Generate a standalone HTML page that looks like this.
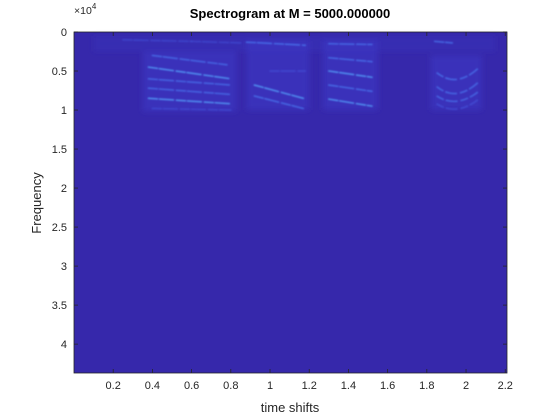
<!DOCTYPE html>
<html><head><meta charset="utf-8"><style>
html,body{margin:0;padding:0;background:#fff}
svg{display:block;font-family:"Liberation Sans",Arial,sans-serif}
</style></head><body>
<svg id="chart" width="560" height="420" viewBox="0 0 560 420" xmlns="http://www.w3.org/2000/svg">
<defs>
<filter id="blur" x="-20%" y="-200%" width="140%" height="500%"><feGaussianBlur stdDeviation="0.8"/></filter>
<filter id="blur2" x="-20%" y="-20%" width="140%" height="140%"><feGaussianBlur stdDeviation="3"/></filter>
</defs>
<rect x="74" y="32" width="433" height="341" fill="#3628ab"/>
<g id="patches" filter="url(#blur2)"></g>
<g id="streaks" filter="url(#blur)"></g>
<g id="axes"></g>
<text x="290" y="18" text-anchor="middle" font-size="13" font-weight="bold" fill="#000">Spectrogram at M = 5000.000000</text>
<text x="74" y="14" font-size="10.5" fill="#262626">×10<tspan dy="-5" font-size="8">4</tspan></text>
<text x="290" y="412" text-anchor="middle" font-size="13" fill="#262626">time shifts</text>
<text transform="translate(41,203) rotate(-90)" text-anchor="middle" font-size="13" fill="#262626">Frequency</text>
</svg>
<script>
const xTicks=[0.2,0.4,0.6,0.8,1,1.2,1.4,1.6,1.8,2,2.2];
const xTickLabels=["0.2","0.4","0.6","0.8","1","1.2","1.4","1.6","1.8","2","2.2"];
const yTicks=[0,0.5,1,1.5,2,2.5,3,3.5,4];
const yTickLabels=["0","0.5","1","1.5","2","2.5","3","3.5","4"];
// active regions: [t0, t1, f0, f1]
const regions=[[0.35,0.83,0.25,1.02],[0.88,1.20,0.1,1.0],[1.27,1.55,0.1,1.0],[1.82,2.08,0.3,1.0],[0.10,2.15,0.05,0.25]];
// streaks
const streakT0=[0.40,0.38,0.38,0.38,0.38,0.40,0.88,1.00,0.92,0.92,1.30,1.30,1.30,1.30,1.30,1.84,0.25,0.60];
const streakF0=[0.30,0.45,0.60,0.72,0.85,0.98,0.13,0.50,0.68,0.82,0.15,0.33,0.50,0.68,0.86,0.12,0.10,0.12];
const streakT1=[0.78,0.80,0.80,0.80,0.80,0.80,1.18,1.18,1.17,1.17,1.52,1.52,1.52,1.52,1.52,1.93,0.60,0.85];
const streakF1=[0.42,0.60,0.68,0.80,0.92,1.00,0.17,0.50,0.85,0.98,0.16,0.38,0.58,0.76,0.95,0.14,0.12,0.14];
const streakI=[0.6,0.8,0.6,0.6,0.8,0.4,0.7,0.4,0.8,0.7,0.6,0.7,0.8,0.7,0.8,0.7,0.3,0.3];
// arcs
const arcT0=[1.85,1.85,1.85,1.85];
const arcTm=[1.95,1.95,1.95,1.95];
const arcT1=[2.06,2.06,2.06,2.06];
const arcFe=[0.52,0.70,0.82,0.92];
const arcFm=[0.62,0.80,0.90,1.00];
const arcI=[0.7,0.6,0.6,0.5];

const X0=74,X1=507,Y0=32,Y1=373,TMAX=2.209,FMAX=4.37;
const sx=t=>X0+t/TMAX*(X1-X0);
const sy=f=>Y0+f/FMAX*(Y1-Y0);
const NS="http://www.w3.org/2000/svg";
function mk(tag,parent,attrs){const e=document.createElementNS(NS,tag);for(const k in attrs)e.setAttribute(k,attrs[k]);parent.appendChild(e);return e;}
const P=document.getElementById('patches'),S=document.getElementById('streaks'),A=document.getElementById('axes');
regions.forEach((r,i)=>{
  const e=mk('rect',P,{x:sx(r[0]),y:sy(r[2]),width:sx(r[1])-sx(r[0]),height:sy(r[3])-sy(r[2]),fill:'#3d35c4',opacity:i==4?0.3:0.6});
  
  
});
function col(v){return v>0.75?'#55a8ff':v>0.55?'#4a7cf4':'#4458e0';}
streakT0.forEach((t,i)=>{
  const e=mk('line',S,{x1:sx(t),y1:sy(streakF0[i]),x2:sx(streakT1[i]),y2:sy(streakF1[i]),stroke:col(streakI[i]),'stroke-width':1.6,'stroke-linecap':'round',opacity:0.35+0.5*streakI[i],'stroke-dasharray':'9 2 14 3'});
  
  
});
arcT0.forEach((t,i)=>{
  const d=`M${sx(t)},${sy(arcFe[i])} Q${sx(arcTm[i])},${sy(arcFm[i]+(arcFm[i]-arcFe[i]))} ${sx(arcT1[i])},${sy(arcFe[i]-0.05)}`;
  const e=mk('path',S,{d:d,fill:'none',stroke:col(arcI[i]),'stroke-width':1.6,opacity:0.35+0.5*arcI[i],'stroke-dasharray':'8 2 12 3'});
  
  
});
const fr=mk('rect',A,{x:X0,y:Y0,width:X1-X0,height:Y1-Y0,fill:'none',stroke:'#262626','stroke-width':0.8});


xTicks.forEach((t,i)=>{
  const x=sx(t);
  mk('line',A,{x1:x,y1:Y1,x2:x,y2:Y1-4,stroke:'#262626','stroke-width':0.8});
  mk('line',A,{x1:x,y1:Y0,x2:x,y2:Y0+4,stroke:'#262626','stroke-width':0.8});
  const e=mk('text',A,{x:x,y:Y1+16,'text-anchor':'middle','font-size':11,fill:'#262626'});
  e.textContent=xTickLabels[i];
  
  
});
yTicks.forEach((f,i)=>{
  const y=sy(f);
  mk('line',A,{x1:X0,y1:y,x2:X0+4,y2:y,stroke:'#262626','stroke-width':0.8});
  mk('line',A,{x1:X1,y1:y,x2:X1-4,y2:y,stroke:'#262626','stroke-width':0.8});
  const e=mk('text',A,{x:X0-7,y:y+4,'text-anchor':'end','font-size':11,fill:'#262626'});
  e.textContent=yTickLabels[i];
  
  
});
</script>
</body></html>
